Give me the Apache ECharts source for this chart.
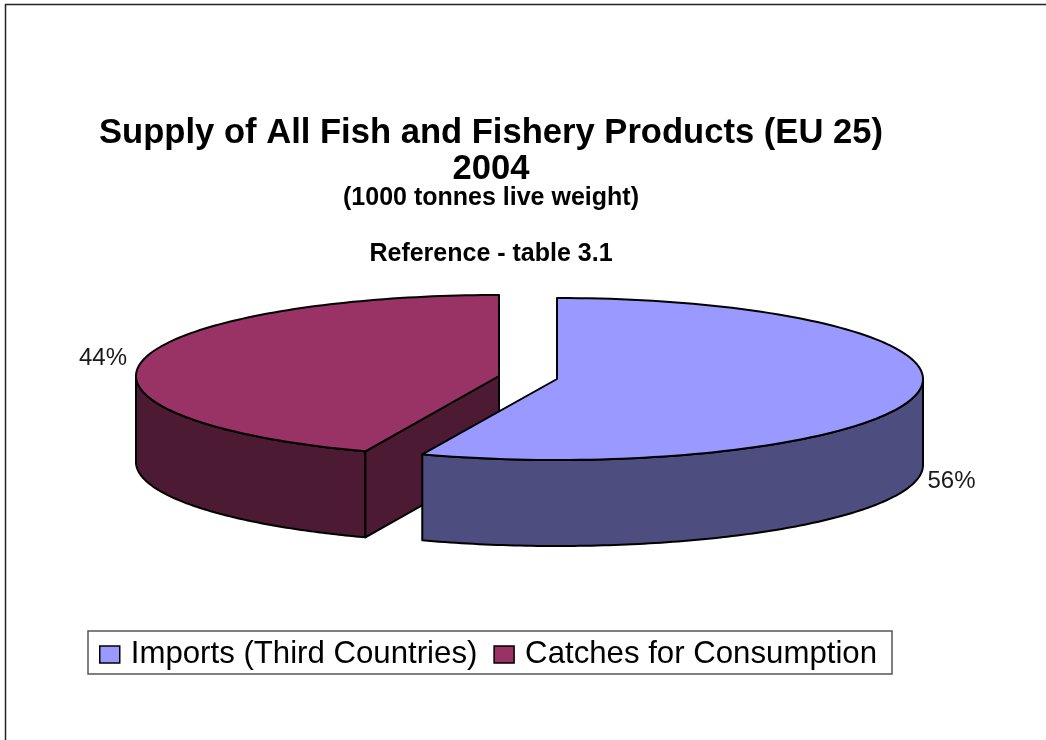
<!DOCTYPE html>
<html><head><meta charset="utf-8">
<style>html,body{margin:0;padding:0;background:#fff}#c{width:1046px;height:740px}</style>
<script src="https://cdn.jsdelivr.net/npm/echarts@6/dist/echarts.min.js"></script>
</head><body><div id="c"></div>
<script>
var categories = ['Imports (Third Countries)', 'Catches for Consumption'];
var seriesValues = [56, 44];
var seriesColors = ['#9999FF', '#993366'];
var sideColors = ['#4D4D80', '#4D1A33'];
var total = seriesValues[0] + seriesValues[1];

var pieRx = [366, 363], pieRy = 81, pieDepth = 86;
var pieCenters = [[557, 379], [499, 376]];
var labelPos = [[951.5, 481], [103, 358]];

function pt(c, rx, frac, dy) {
  var a = frac * 2 * Math.PI;
  return [c[0] + rx * Math.sin(a), c[1] - pieRy * Math.cos(a) + (dy || 0)];
}
function arc(c, rx, f0, f1, dy) {
  var pts = [], n = 120;
  for (var i = 0; i <= n; i++) pts.push(pt(c, rx, f0 + (f1 - f0) * i / n, dy));
  return pts;
}
function makeRender(idx) {
  return function (params, api) {
    var v = api.value(0);
    var start = idx === 0 ? 0 : seriesValues[0] / total;
    var end = start + v / total;
    var c = pieCenters[idx], rx = pieRx[idx];
    var children = [];
    function poly(points, fill) {
      children.push({type: 'polygon', shape: {points: points},
        style: {fill: fill, stroke: '#000', lineWidth: 2, lineJoin: 'round'}});
    }
    var wallFrom = Math.max(start, 0.25), wallTo = Math.min(end, 0.75);
    if (wallTo > wallFrom) {
      poly(arc(c, rx, wallFrom, wallTo, 0).concat(arc(c, rx, wallTo, wallFrom, pieDepth)), sideColors[idx]);
    }
    if (idx === 1) {
      var a = pt(c, rx, start, 0), b = pt(c, rx, start, pieDepth);
      poly([a, c, [c[0], c[1] + pieDepth], b], sideColors[idx]);
    }
    poly([c].concat(arc(c, rx, start, end, 0)), seriesColors[idx]);
    children.push({type: 'text', style: {
      text: v + '%', x: labelPos[idx][0], y: labelPos[idx][1], fill: '#1a1a1a',
      font: '24px "Liberation Sans", Arial, sans-serif', textAlign: 'center', textVerticalAlign: 'middle'}});
    return {type: 'group', children: children};
  };
}
var titleFont = '"Liberation Sans", Arial, sans-serif';
function ttl(text, y, size) {
  return {text: text, left: 491, top: y, textAlign: 'center', padding: 0,
    textStyle: {fontFamily: titleFont, fontWeight: 'bold', fontSize: size, color: '#000', lineHeight: size + 2}};
}
var chart = echarts.init(document.getElementById('c'));
chart.setOption({
  animation: false,
  backgroundColor: '#fff',
  title: [ttl('Supply of All Fish and Fishery Products (EU 25)', 115, 34.6),
          ttl('2004', 151, 34.6),
          ttl('(1000 tonnes live weight)', 185, 25),
          ttl('Reference - table 3.1', 241, 25)],
  legend: {
    data: categories, left: 88, top: 631, orient: 'horizontal', icon: 'rect',
    padding: [8, 15, 4, 11], itemGap: 16, itemWidth: 20, itemHeight: 17,
    backgroundColor: '#fff', borderColor: '#555', borderWidth: 1.5,
    textStyle: {fontFamily: titleFont, fontSize: 31.2, color: '#000', padding: [0, 0, 0, 6]},
    itemStyle: {borderColor: '#000', borderWidth: 1.5}
  },
  graphic: [
    {type: 'line', shape: {x1: 5.5, y1: 4.5, x2: 5.5, y2: 740}, style: {stroke: '#222', lineWidth: 1.5}},
    {type: 'line', shape: {x1: 5, y1: 4.5, x2: 1046, y2: 4.5}, style: {stroke: '#222', lineWidth: 1.5}}
  ],
  series: categories.map(function (name, i) {
    return {
      type: 'custom', name: name, coordinateSystem: 'none', z: i === 0 ? 3 : 2, silent: true,
      itemStyle: {color: seriesColors[i]},
      data: [[seriesValues[i]]],
      renderItem: makeRender(i)
    };
  })
});
</script></body></html>
